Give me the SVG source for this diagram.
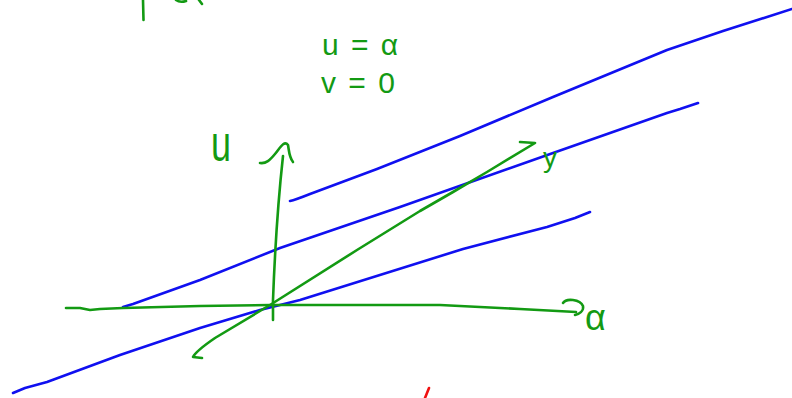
<svg xmlns="http://www.w3.org/2000/svg" width="792" height="398" viewBox="0 0 792 398">
<style>
.b{fill:none;stroke:#1010f0;stroke-width:2.6;stroke-linecap:round;stroke-linejoin:round}
.g{fill:none;stroke:#139a13;stroke-width:2.6;stroke-linecap:round;stroke-linejoin:round}
.r{fill:none;stroke:#f01010;stroke-width:2.6;stroke-linecap:round}
.t{font-family:"Liberation Sans",Arial,sans-serif;fill:#139a13}
</style>
<rect width="792" height="398" fill="#ffffff"/>
<g id="fragments">
<path class="g" d="M143,0 L143.5,20"/>
<path class="g" d="M176,0 Q180,3 186,1"/>
<path class="g" d="M199,0 L202,4"/>
<path class="r" d="M429,388 L425,398"/>
</g>
<g id="blue-lines">
<path class="b" d="M290,201 Q295,200 310,194 L377,169 L460,136 L553,97 L667,50 L723,31 L792,9"/>
<path class="b" d="M123,307 L133,304 L200,280 L280,248 L400,207 L553,153 L667,113 L680,109 L698,103"/>
<path class="b" d="M13,393 L25,388 L47,382 L120,355 L200,328 L260,310 L300,300 L463,249 L547,227 L575,218 L590,212"/>
</g>
<g id="axes">
<path class="g" d="M66,308 L80,308 L90,310 L100,309 L123,308 L200,306 L270,305 L440,305 L520,309 L576,312"/>
<path class="g" d="M563,303 C566,298 580,299 583,306 C584,311 579,314 575,315"/>
<path class="g" d="M273,320 L273,300 Q276,220 283,156"/>
<path class="g" d="M260,163 C266,164 270,160 275,154 C280,148 284,140 288,145 C289,150 289,157 293,162"/>
<path class="g" d="M202,358 L193,357 Q196,351 215,338 L270,305 L357,250 L420,211 L453,192 L487,172 L535,143 L520,142"/>
</g>
<g id="labels">
<text class="t" font-size="28" x="543" y="167">y</text>
<text class="t" font-size="36" x="585" y="330">α</text>
<text class="t" font-size="36" transform="translate(211,161) scale(1,1.4)">u</text>
<text class="t" font-size="30" x="322" y="55" letter-spacing="2">u = α</text>
<text class="t" font-size="30" x="321" y="93" letter-spacing="2">v = 0</text>
</g>
</svg>
